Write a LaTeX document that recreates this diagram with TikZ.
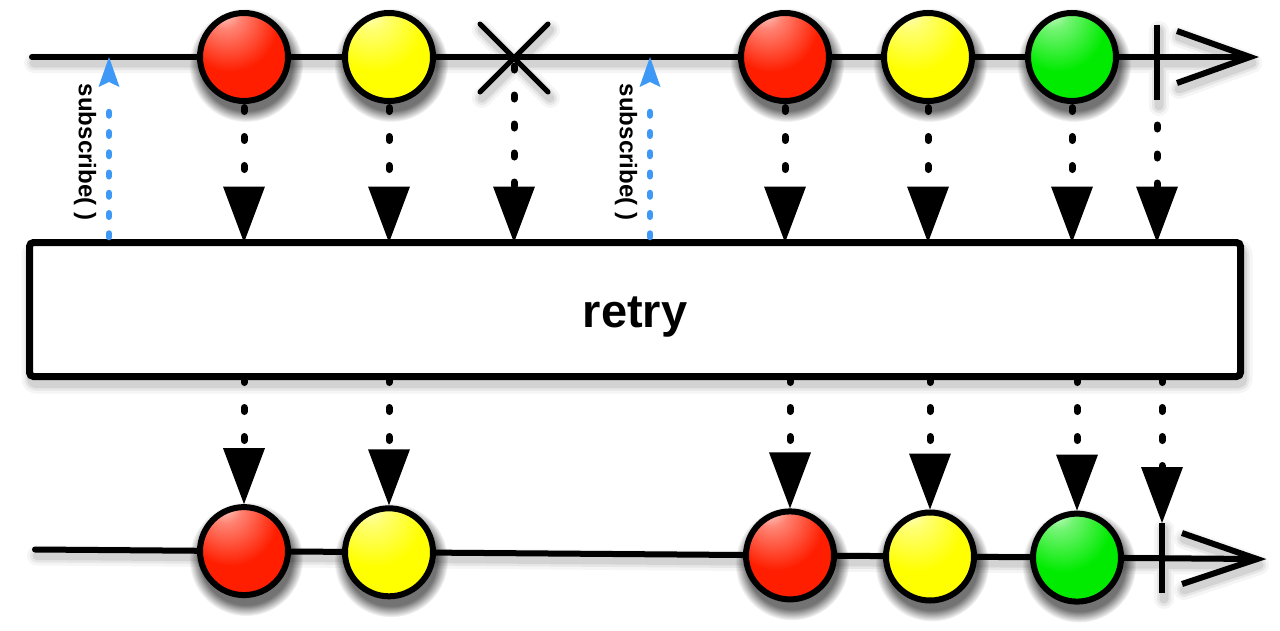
\documentclass[tikz,border=0pt]{standalone}
\usepackage{fontspec}
\setmainfont{Liberation Sans}
\usetikzlibrary{arrows.meta,fadings}
\definecolor{ballred}{RGB}{255,30,0}
\definecolor{ballyellow}{RGB}{255,255,0}
\definecolor{ballgreen}{RGB}{0,235,0}
\definecolor{subblue}{RGB}{62,152,245}
\pgfdeclareradialshading{ballR}{\pgfpoint{-12bp}{28bp}}{%
  color(0bp)=(ballred!12!white); color(9bp)=(ballred!55!white); color(27bp)=(ballred);
  color(52bp)=(ballred); color(66bp)=(ballred!72!black); color(80bp)=(ballred!45!black)}
\pgfdeclareradialshading{ballY}{\pgfpoint{-12bp}{28bp}}{%
  color(0bp)=(ballyellow!12!white); color(9bp)=(ballyellow!55!white); color(27bp)=(ballyellow);
  color(52bp)=(ballyellow); color(66bp)=(ballyellow!72!black); color(80bp)=(ballyellow!45!black)}
\pgfdeclareradialshading{ballG}{\pgfpoint{-12bp}{28bp}}{%
  color(0bp)=(ballgreen!12!white); color(9bp)=(ballgreen!55!white); color(27bp)=(ballgreen);
  color(52bp)=(ballgreen); color(66bp)=(ballgreen!72!black); color(80bp)=(ballgreen!45!black)}
\tikzset{
  ev/.style={circle, draw=black, line width=6pt, minimum size=88pt, inner sep=0pt, outer sep=3pt},
  redev/.style={ev, shading=ballR},
  yellowev/.style={ev, shading=ballY},
  greenev/.style={ev, shading=ballG},
  tline/.style={line width=6pt, line cap=round},
  barb/.style={line width=6pt, line cap=butt, line join=miter, miter limit=10},
  endbar/.style={line width=6pt, line cap=butt},
  xmark/.style={line width=5pt, line cap=round},
  emit/.style={line width=7pt, line cap=round, dash pattern=on 4pt off 25pt,
      -{Triangle[length=56pt,width=42pt,line width=0pt]}},
  subarr/.style={subblue, line width=6.5pt, line cap=round,
      dash pattern=on 3.5pt off 16.75pt on 3.5pt off 16.75pt on 3.5pt off 16.75pt on 3.5pt off 16.75pt on 3.5pt off 16.75pt on 3.5pt off 16.75pt on 3.5pt off 90pt,
      -{Stealth[length=30pt,width=21pt,inset=5pt,line width=0pt]}},
  sublabel/.style={font=\bfseries\fontsize{24pt}{25pt}\selectfont, rotate=-90, inner sep=0pt},
  opbox/.style={draw=black, fill=white, line width=7pt, rounded corners=4pt,
      minimum width=1211pt, minimum height=134pt, inner sep=0pt, outer sep=0pt,
      font=\bfseries\fontsize{47pt}{50pt}\selectfont, text height=40pt, text depth=5pt},
  shd/.style={black, opacity=#1, line cap=round, line join=round},
  ballshadow/.style={black, opacity=0.55, path fading=circle with fuzzy edge 20 percent},
}
\begin{document}
\begin{tikzpicture}[x=1pt,y=-1pt]
\useasboundingbox[fill=white] (0,0) rectangle (1280,630);
% timeline points
\coordinate (t0) at (32,57);
\coordinate (t1) at (1250,57);
\coordinate (ta1) at (1177,31);
\coordinate (ta2) at (1177,83);
\coordinate (e1t) at (1157,25);
\coordinate (e1b) at (1157,100);
\coordinate (xm) at (514,58);
\coordinate (xa) at (480,24);
\coordinate (xb) at (548,92);
\coordinate (xc) at (480,92);
\coordinate (xd) at (548,24);
\coordinate (b0) at (35,549.5);
\coordinate (b1) at (1257,559);
\coordinate (ba1) at (1182,533);
\coordinate (ba2) at (1182,584);
\coordinate (e2t) at (1162,523);
\coordinate (e2b) at (1162,593);
\coordinate (s1b) at (109,237);
\coordinate (s1t) at (109,57);
\coordinate (s2b) at (650,237);
\coordinate (s2t) at (650,57);

% shadows of lines
\foreach \w/\o in {20/0.04,14/0.06,9/0.08}{
  \draw[shd=\o, line width=\w pt, transform canvas={shift={(2,6)}}]
    (t0) -- (t1) (ta1) -- (t1) -- (ta2) (e1t) -- (e1b) (xa) -- (xb) (xc) -- (xd)
    (b0) -- (b1) (ba1) -- (b1) -- (ba2) (e2t) -- (e2b);
  \draw[shd=\o, line width=\w pt, rounded corners=4pt] (31.5,250) rectangle (1242.5,383.5);
}
% shadows of balls
\foreach \x/\y in {244/57,389/57,785/57,928/57,1072/57,244/551.1,389/552.3,790/555.4,930/556.5,1077/557.6}
  \fill[ballshadow] (\x+2,\y+8) circle (57pt);

% top timeline
\draw[tline] (t0) -- (t1);
\draw[barb] (ta1) -- (t1) -- (ta2);
\draw[endbar] (e1t) -- (e1b);
\draw[xmark] (xa) -- (xb) (xc) -- (xd);
% bottom timeline
\draw[tline] (b0) -- (b1);
\draw[barb] (ba1) -- (b1) -- (ba2);
\draw[endbar] (e2t) -- (e2b);

% events
\node[redev]    (r1) at (244,57) {};
\node[yellowev] (y1) at (389,57) {};
\node[redev]    (r2) at (785,57) {};
\node[yellowev] (y2) at (928,57) {};
\node[greenev]  (g2) at (1072,57) {};
\node[redev]    (r3) at (244,551.1) {};
\node[yellowev] (y3) at (389,552.3) {};
\node[redev]    (r4) at (790,555.4) {};
\node[yellowev] (y4) at (930,556.5) {};
\node[greenev]  (g4) at (1077,557.6) {};

% operator box
\node[opbox] (box) at (635,309.5) {retry};

% emissions into the operator
\draw[emit, dash phase=25.5pt] (r1.south) -- (r1.south |- box.north);
\draw[emit, dash phase=25.5pt] (y1.south) -- (y1.south |- box.north);
\draw[emit, dash phase=21pt] (xm) -- (xm |- box.north);
\draw[emit, dash phase=25.5pt] (r2.south) -- (r2.south |- box.north);
\draw[emit, dash phase=25.5pt] (y2.south) -- (y2.south |- box.north);
\draw[emit, dash phase=25.5pt] (g2.south) -- (g2.south |- box.north);
\draw[emit, dash phase=4pt] (e1b) -- (e1b |- box.north);
% emissions out of the operator
\draw[emit, dash phase=27pt] (box.south -| r3) -- (r3.north);
\draw[emit, dash phase=27pt] (box.south -| y3) -- (y3.north);
\draw[emit, dash phase=27pt] (box.south -| r4) -- (r4.north);
\draw[emit, dash phase=27pt] (box.south -| y4) -- (y4.north);
\draw[emit, dash phase=27pt] (box.south -| g4) -- (g4.north);
\draw[emit, dash phase=27pt] (box.south -| e2t) -- (e2t);

% subscriptions
\draw[subarr] (s1b) -- (s1t);
\draw[subarr] (s2b) -- (s2t);
\node[sublabel] (lab1) at (85,152) {subscribe( )};
\node[sublabel] (lab2) at (626,152) {subscribe( )};
\end{tikzpicture}
\end{document}
